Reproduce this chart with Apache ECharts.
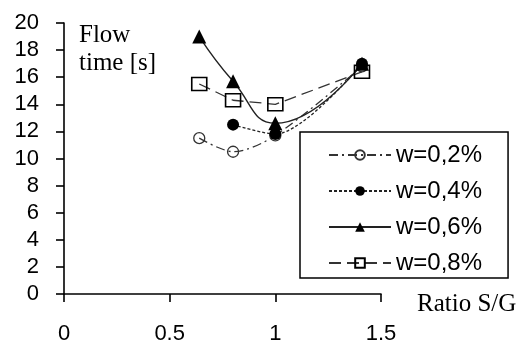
<!DOCTYPE html>
<html>
<head>
<meta charset="utf-8">
<script src="https://cdn.jsdelivr.net/npm/echarts@6/dist/echarts.min.js"></script>
<style>
  html, body { margin: 0; padding: 0; background: #fff; }
  #chart { width: 520px; height: 345px; }
</style>
</head>
<body>
<div id="chart"></div>
<script>
// ratio S/G on the x axis
var ratios = [0.64, 0.8, 1.0, 1.41];
// flow time [s] for each additive share
var w02 = [11.5, 10.5, 11.7, 16.8];
var w04 = [null, 12.5, 11.8, 17.0];
var w06 = [19.0, 15.7, 12.6, 17.0];
var w08 = [15.5, 14.3, 14.0, 16.4];
var seriesNames = ["w=0,2%", "w=0,4%", "w=0,6%", "w=0,8%"];
var xTicks = [0, 0.5, 1, 1.5];
var yTicks = [0, 2, 4, 6, 8, 10, 12, 14, 16, 18, 20];

function pairs(vals) {
    var out = [];
    for (var i = 0; i < ratios.length; i++) {
        if (vals[i] != null) out.push([ratios[i], vals[i]]);
    }
    return out;
}

var sans = "Liberation Sans, Arial, sans-serif";
var serif = "Liberation Serif, Times New Roman, serif";

var chart = echarts.init(document.getElementById("chart"));
chart.setOption({
    animation: false,
    grid: { left: 64, right: 139, top: 23, bottom: 49 },
    xAxis: {
        type: "value",
        min: xTicks[0],
        max: xTicks[xTicks.length - 1],
        interval: 0.5,
        splitLine: { show: false },
        axisLine: { lineStyle: { color: "#000", width: 1.6 } },
        axisTick: { length: 8, lineStyle: { color: "#000", width: 1.6 } },
        axisLabel: { color: "#000", fontFamily: sans, fontSize: 22, margin: 29 }
    },
    yAxis: {
        type: "value",
        min: yTicks[0],
        max: yTicks[yTicks.length - 1],
        interval: 2,
        splitLine: { show: false },
        axisLine: { show: true, lineStyle: { color: "#000", width: 1.6 } },
        axisTick: { show: true, length: 8, lineStyle: { color: "#000", width: 1.6 } },
        axisLabel: { color: "#000", fontFamily: sans, fontSize: 22, margin: 25 }
    },
    legend: {
        orient: "vertical",
        left: 300,
        top: 132,
        padding: [10, 26, 2, 28],
        itemGap: 10,
        itemWidth: 62,
        itemHeight: 12,
        borderColor: "#000",
        borderWidth: 1.5,
        backgroundColor: "#fff",
        data: seriesNames,
        textStyle: { color: "#000", fontFamily: sans, fontSize: 24, lineHeight: 26 }
    },
    graphic: [
        {
            type: "text",
            left: 79,
            top: 21,
            style: { text: "Flow\ntime [s]", font: "25px " + serif, lineHeight: 28, fill: "#000" }
        },
        {
            type: "text",
            left: 417,
            top: 292,
            style: { text: "Ratio S/G", font: "25px " + serif, fill: "#000" }
        }
    ],
    series: [
        {
            name: seriesNames[0],
            type: "line",
            data: pairs(w02),
            smooth: 0.3,
            symbol: "circle",
            symbolSize: 11,
            lineStyle: { color: "#333", width: 1.3, type: [9, 4, 2, 4] },
            itemStyle: { color: "transparent", borderColor: "#333", borderWidth: 1.3 }
        },
        {
            name: seriesNames[1],
            type: "line",
            data: pairs(w04),
            smooth: 0.3,
            symbol: "circle",
            symbolSize: 12,
            lineStyle: { color: "#222", width: 1.3, type: [3, 2] },
            itemStyle: { color: "#000" }
        },
        {
            name: seriesNames[2],
            type: "line",
            data: pairs(w06),
            smooth: 0.5,
            symbol: "triangle",
            symbolSize: 14,
            lineStyle: { color: "#222", width: 1.4, type: "solid" },
            itemStyle: { color: "#000" }
        },
        {
            name: seriesNames[3],
            type: "line",
            data: pairs(w08),
            smooth: false,
            symbol: "rect",
            symbolSize: [15, 13],
            lineStyle: { color: "#333", width: 1.3, type: [12, 6] },
            itemStyle: { color: "transparent", borderColor: "#000", borderWidth: 1.5 }
        }
    ]
});
</script>
</body>
</html>
